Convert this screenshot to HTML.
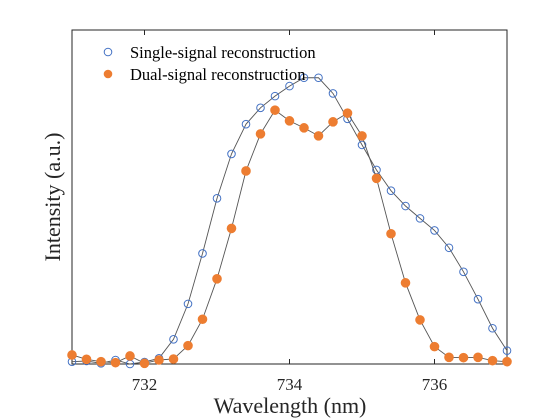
<!DOCTYPE html>
<html><head><meta charset="utf-8"><style>
body{margin:0;background:#fff;}
svg{display:block;font-family:"Liberation Serif",serif;}
</style></head><body>
<svg id="chart" width="560" height="420"></svg>
<script>
const wavelengths=[];for(let i=0;i<31;i++)wavelengths.push(731+0.2*i);
const singleSignal=[0.007,0.009,0.002,0.012,0,0.006,0.017,0.074,0.180,0.331,0.496,0.629,0.718,0.767,0.802,0.832,0.857,0.857,0.810,0.734,0.656,0.581,0.519,0.473,0.436,0.400,0.348,0.276,0.194,0.107,0.040];
const dualSignal=[0.027,0.014,0.007,0.004,0.024,0.002,0.012,0.015,0.055,0.134,0.255,0.406,0.578,0.689,0.760,0.728,0.707,0.683,0.725,0.751,0.683,0.556,0.390,0.243,0.132,0.052,0.020,0.019,0.020,0.010,0.007];
const xTicks=[732,734,736];
const L=72,R=507,T=30,B=364;
const xs=v=>L+(v-731)/6*(R-L);
const ys=v=>B-v*(B-T);
const NS='http://www.w3.org/2000/svg';
const svg=document.getElementById('chart');
function mk(t,a){const e=document.createElementNS(NS,t);for(const k in a)e.setAttribute(k,a[k]);svg.appendChild(e);return e;}
let e=mk('rect',{x:L,y:T,width:R-L,height:B-T,fill:'#fff',stroke:'#262626','stroke-width':1});


xTicks.forEach(t=>{
 let a=mk('line',{x1:xs(t),x2:xs(t),y1:B,y2:B-5,stroke:'#262626'});
 
 
 let b=mk('line',{x1:xs(t),x2:xs(t),y1:T,y2:T+5,stroke:'#262626'});
 
 
 let l=mk('text',{x:xs(t),y:390,'text-anchor':'middle','font-size':17,fill:'#262626'});
 l.textContent=t;
 
 
});
function series(vals,name,filled){
 const pts=vals.map((v,i)=>xs(wavelengths[i])+','+ys(v)).join(' ');
 let p=mk('polyline',{points:pts,fill:'none',stroke:'#555','stroke-width':0.9});
 
 
 vals.forEach((v,i)=>{
  let c=mk('circle',{cx:xs(wavelengths[i]),cy:ys(v),r:filled?4.3:3.8,fill:filled?'#ED7D31':'none',stroke:filled?'#ED7D31':'#4472C4','stroke-width':1});
  
  
 });
}
series(singleSignal,'single-signal',false);
series(dualSignal,'dual-signal',true);
let c1=mk('circle',{cx:108,cy:52,r:3.8,fill:'none',stroke:'#4472C4'});


let t1=mk('text',{x:130,y:58,'font-size':16.5,fill:'#000'});t1.textContent='Single-signal reconstruction';


let c2=mk('circle',{cx:108,cy:74,r:4.3,fill:'#ED7D31'});


let t2=mk('text',{x:130,y:80,'font-size':16.5,fill:'#000'});t2.textContent='Dual-signal reconstruction';


let xl=mk('text',{x:290,y:413,'text-anchor':'middle','font-size':22,fill:'#262626'});xl.textContent='Wavelength (nm)';


let yl=mk('text',{x:0,y:0,'text-anchor':'middle','font-size':22,fill:'#262626',transform:'translate(60,197) rotate(-90)'});yl.textContent='Intensity (a.u.)';


</script>
</body></html>
